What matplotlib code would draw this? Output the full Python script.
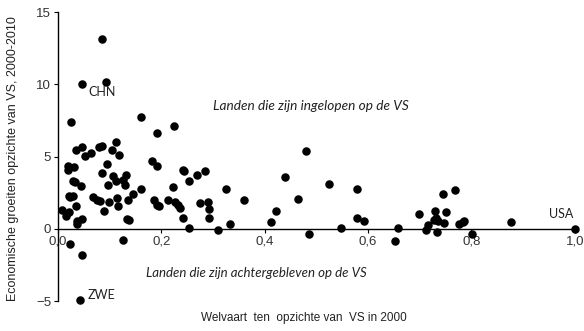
import matplotlib
matplotlib.use("Agg")
import matplotlib.pyplot as plt
from matplotlib.ticker import FuncFormatter

# welvaart t.o.v. VS in 2000 (x) en groei t.o.v. VS 2000-2010 (y)
welvaart = [0.085, 0.047, 0.093, 0.025, 0.035, 0.047, 0.052, 0.064, 0.079, 0.085,
            0.112, 0.105, 0.118, 0.095, 0.008, 0.016, 0.021, 0.023, 0.019, 0.019,
            0.031, 0.029, 0.033, 0.045, 0.021, 0.029, 0.035, 0.037, 0.037, 0.047,
            0.023, 0.047, 0.043, 0.068, 0.076, 0.081, 0.085, 0.089, 0.099, 0.107,
            0.112, 0.097, 0.114, 0.116, 0.126, 0.132, 0.130, 0.136, 0.134, 0.137,
            0.126, 0.145, 0.161, 0.182, 0.192, 0.186, 0.192, 0.196, 0.213, 0.223,
            0.227, 0.233, 0.236, 0.242, 0.242, 0.254, 0.254, 0.269, 0.275, 0.161,
            0.192, 0.225, 0.244, 0.285, 0.291, 0.293, 0.293, 0.310, 0.326, 0.333,
            0.360, 0.413, 0.422, 0.440, 0.465, 0.479, 0.486, 0.525, 0.548, 0.579,
            0.578, 0.593, 0.657, 0.653, 0.698, 0.713, 0.715, 0.729, 0.727, 0.731,
            0.736, 0.734, 0.744, 0.746, 0.750, 0.769, 0.775, 0.783, 0.785, 0.802,
            0.876, 1.000]
groei = [13.15, 10.03, 10.17, 7.40, 5.47, 5.67, 5.05, 5.26, 5.67, 5.74,
         6.02, 5.47, 5.12, 4.50, 1.31, 0.90, 1.18, 2.21, 4.36, 4.08,
         4.29, 3.32, 3.25, 2.98, 2.28, 2.28, 1.59, 0.55, 0.35, 0.69,
         -1.04, -1.80, -4.95, 2.21, 2.01, 1.94, 3.88, 1.25, 1.87, 3.67,
         3.32, 3.04, 2.15, 1.59, 3.39, 3.74, 3.04, 2.01, 0.69, 0.62,
         -0.76, 2.42, 2.77, 4.71, 4.36, 2.01, 1.66, 1.59, 2.01, 2.91,
         1.87, 1.66, 1.45, 0.76, 4.08, 0.05, 3.32, 3.74, 1.80, 7.75,
         6.64, 7.13, 4.01, 4.01, 1.87, 1.38, 0.76, -0.07, 2.77, 0.35,
         2.01, 0.48, 1.25, 3.60, 2.08, 5.40, -0.35, 3.11, 0.07, 2.77,
         0.76, 0.55, 0.07, -0.83, 1.04, -0.07, 0.28, 1.25, 0.62, 0.76,
         0.55, -0.21, 2.42, 0.42, 1.18, 2.70, 0.35, 0.48, 0.55, -0.35,
         0.48, 0.00]

labels = ["CHN", "ZWE", "USA"]
label_pos = [(0.058, 9.5), (0.058, -4.6), (0.95, 1.0)]

x_ticks = [0.0, 0.2, 0.4, 0.6, 0.8, 1.0]
y_ticks = [-5, 0, 5, 10, 15]

fig = plt.figure(figsize=(5.84, 3.31), dpi=100)
ax = fig.add_axes([0.0993, 0.0906, 0.885, 0.873])

ax.scatter(welvaart, groei, s=26, color="black", zorder=3, clip_on=False)

for lab, (lx, ly) in zip(labels, label_pos):
    ax.text(lx, ly, lab, fontsize=9, family="Lato", va="center", color="#222222")

ax.text(0.30, 8.5, "Landen die zijn ingelopen op de VS", fontsize=9.8,
        family="Lato", style="italic", va="center", color="#222222")
ax.text(0.17, -3.05, "Landen die zijn achtergebleven op de VS", fontsize=9.5,
        family="Lato", style="italic", va="center", color="#222222")

ax.set_xlim(0, 1.0)
ax.set_ylim(-5, 15)
ax.spines["right"].set_visible(False)
ax.spines["top"].set_visible(False)
ax.spines["bottom"].set_position(("data", 0))
ax.spines["left"].set_linewidth(1.0)
ax.spines["bottom"].set_linewidth(1.0)

ax.set_xticks(x_ticks)
ax.set_yticks(y_ticks)
ax.xaxis.set_major_formatter(FuncFormatter(lambda v, p: f"{v:.1f}".replace(".", ",")))
ax.tick_params(axis="both", direction="out", length=3, labelsize=9.5,
               labelcolor="#333333", pad=2)
for t in ax.get_xticklabels() + ax.get_yticklabels():
    t.set_family("Liberation Sans")

fig.text(0.52, 0.04, "Welvaart  ten  opzichte van  VS in 2000", ha="center",
         va="center", fontsize=8.5, family="Liberation Sans", color="#222222")
fig.text(0.022, 0.52, "Economische groeiten opzichte van VS, 2000-2010",
         rotation=90, ha="center", va="center", fontsize=9,
         family="Liberation Sans", color="#222222")

fig.savefig("out.png", dpi=100)
